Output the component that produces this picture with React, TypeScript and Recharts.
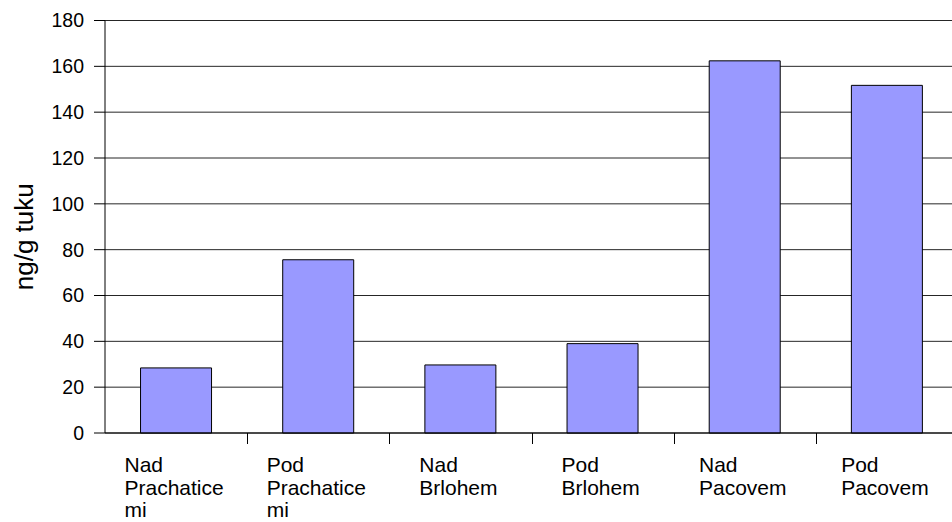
import { BarChart, Bar, XAxis, YAxis, CartesianGrid } from 'recharts';

// sampling sites (label lines as wrapped in the original)
const categories = [
  'Nad\nPrachatice\nmi',
  'Pod\nPrachatice\nmi',
  'Nad\nBrlohem',
  'Pod\nBrlohem',
  'Nad\nPacovem',
  'Pod\nPacovem',
];
const values = [28.4, 75.6, 29.7, 39.0, 162.4, 151.7];
const yTicks = [0, 20, 40, 60, 80, 100, 120, 140, 160, 180];
const yLabel = 'ng/g tuku';

const FONT = '"Liberation Sans", Arial, sans-serif';
const X_FONT_SIZE = 21;

const data = categories.map((name, i) => ({ name, value: values[i] }));

let measureCtx: CanvasRenderingContext2D | null = null;
function textWidth(s: string) {
  if (!measureCtx) {
    measureCtx = document.createElement('canvas').getContext('2d');
  }
  if (!measureCtx) return s.length * X_FONT_SIZE * 0.55;
  measureCtx.font = `${X_FONT_SIZE}px "Liberation Sans", Arial`;
  return measureCtx.measureText(s).width;
}

function CategoryTick(props: any) {
  const { x, y, payload, width } = props;
  const band = (width || 853) / categories.length;
  const lines: string[] = String(payload.value).split('\n');
  const blockW = Math.max(...lines.map(textWidth));
  const left = x - blockW / 2 - 2;
  const tickX = Math.round(x - band / 2) + 0.5;
  return (
    <g>
      {payload.index > 0 || props.index > 0 ? (
        <line x1={tickX} x2={tickX} y1={y} y2={y + 11} stroke="#000" />
      ) : null}
      <text x={left} y={y + 39} fontSize={X_FONT_SIZE} fontFamily={FONT} fill="#000">
        {lines.map((l, i) => (
          <tspan key={i} x={left} dy={i === 0 ? 0 : 22.5}>
            {l}
          </tspan>
        ))}
      </text>
    </g>
  );
}

function YLabel(props: any) {
  const vb = props.viewBox || { x: 0, y: 20, width: 105, height: 413 };
  const cx = vb.x + 33;
  const cy = vb.y + vb.height / 2 + 10;
  return (
    <text
      x={cx}
      y={cy}
      transform={`rotate(-90 ${cx} ${cy})`}
      textAnchor="middle"
      fontSize={26}
      fontFamily={FONT}
      fill="#000"
    >
      {yLabel}
    </text>
  );
}

export default function App() {
  return (
    <div style={{ position: 'absolute', left: 0, top: 0, width: 952, height: 522, overflow: 'hidden', background: '#fff' }}>
      <BarChart
        width={960}
        height={522}
        data={data}
        margin={{ top: 20.5, right: 2, bottom: 0, left: 0 }}
        barCategoryGap="25%"
      >
        <CartesianGrid vertical={false} stroke="#000" strokeOpacity={0.85} />
        <XAxis
          dataKey="name"
          height={89}
          interval={0}
          tickLine={false}
          tickSize={0}
          tickMargin={0}
          axisLine={{ stroke: '#000' }}
          tick={<CategoryTick />}
        />
        <YAxis
          width={105}
          domain={[0, 180]}
          ticks={yTicks}
          interval={0}
          tickSize={11}
          tickMargin={10}
          axisLine={{ stroke: '#000' }}
          tickLine={{ stroke: '#000' }}
          tick={{ fill: '#000', fontSize: 19.5, fontFamily: FONT }}
          label={{ content: <YLabel /> }}
        />
        <Bar dataKey="value" fill="#9999FF" stroke="#000" strokeWidth={1} isAnimationActive={false} />
      </BarChart>
    </div>
  );
}
